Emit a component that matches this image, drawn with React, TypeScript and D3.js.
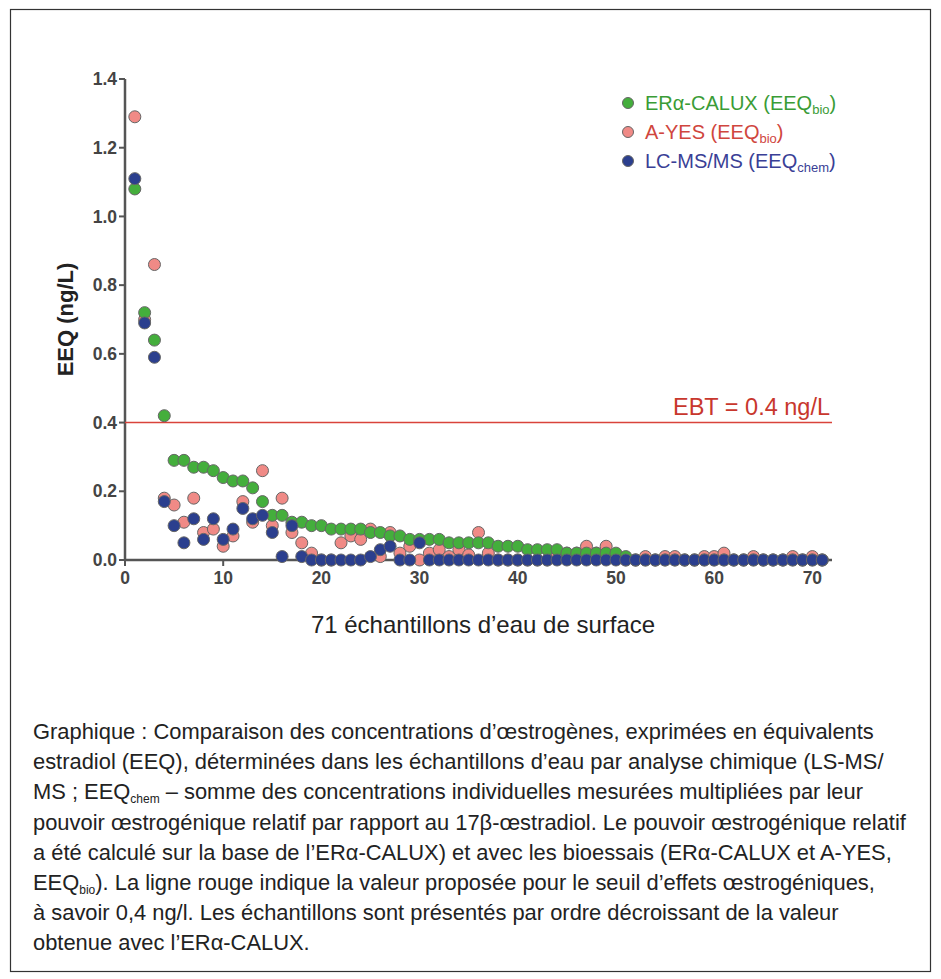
import React, { useEffect } from "react";
import * as d3 from "d3";

// sample rank 1..71 (sorted by ERα-CALUX)
const samples = d3.range(1, 72);

const calux = [
  1.08, 0.72, 0.64, 0.42, 0.29, 0.29, 0.27, 0.27, 0.26, 0.24, 0.23, 0.23, 0.21, 0.17, 0.13, 0.13,
  0.11, 0.11, 0.1, 0.1, 0.09, 0.09, 0.09, 0.09, 0.08, 0.08, 0.07, 0.07, 0.06, 0.06, 0.06, 0.06,
  0.05, 0.05, 0.05, 0.05, 0.05, 0.04, 0.04, 0.04, 0.03, 0.03, 0.03, 0.03, 0.02, 0.02, 0.02, 0.02,
  0.02, 0.02, 0.01, 0, 0, 0, 0, 0, 0, 0, 0, 0, 0, 0, 0, 0, 0, 0, 0, 0, 0, 0, 0,
];

const ayes = [
  1.29, 0.7, 0.86, 0.18, 0.16, 0.11, 0.18, 0.08, 0.09, 0.04, 0.07, 0.17, 0.11, 0.26, 0.1, 0.18,
  0.08, 0.05, 0.02, 0, 0, 0.05, 0.07, 0.06, 0.09, 0.01, 0.08, 0.02, 0.04, 0, 0.02, 0.03,
  0.01, 0.03, 0.015, 0.08, 0.02, 0, 0, 0, 0, 0, 0, 0.01, 0.02, 0.02, 0.04, 0.02,
  0.04, 0.01, 0, 0, 0.01, 0, 0.01, 0.01, 0, 0, 0.01, 0.01, 0.02, 0, 0, 0.01, 0, 0, 0, 0.01, 0, 0.01, 0,
];

const lcms = [
  1.11, 0.69, 0.59, 0.17, 0.1, 0.05, 0.12, 0.06, 0.12, 0.06, 0.09, 0.15, 0.12, 0.13, 0.08, 0.01,
  0.1, 0.01, 0, 0, 0, 0, 0, 0, 0.01, 0.03, 0.04, 0, 0, 0.05, 0, 0,
  0, 0, 0, 0, 0, 0, 0, 0, 0, 0, 0, 0, 0, 0, 0, 0, 0, 0, 0, 0, 0, 0, 0, 0, 0, 0, 0, 0, 0, 0, 0, 0, 0, 0, 0, 0, 0, 0, 0,
];

const xTicks = [0, 10, 20, 30, 40, 50, 60, 70];
const yTicks = [0, 0.2, 0.4, 0.6, 0.8, 1.0, 1.2, 1.4];
const threshold = 0.4;

const series = [
  { name: "A-YES", sub: "bio", values: ayes, fill: "#f08a86", text: "#d0463e" },
  { name: "ERα-CALUX", sub: "bio", values: calux, fill: "#44ae3c", text: "#3a9c36" },
  { name: "LC-MS/MS", sub: "chem", values: lcms, fill: "#2b3f8e", text: "#3a3f96" },
];
const legendOrder = [1, 0, 2];

const captionLines: [string, string?, string?][] = [
  ["Graphique : Comparaison des concentrations d’œstrogènes, exprimées en équivalents"],
  ["estradiol (EEQ), déterminées dans les échantillons d’eau par analyse chimique (LS-MS/"],
  ["MS ; EEQ", "chem", " – somme des concentrations individuelles mesurées multipliées par leur"],
  ["pouvoir œstrogénique relatif par rapport au 17β-œstradiol. Le pouvoir œstrogénique relatif"],
  ["a été calculé sur la base de l’ERα-CALUX) et avec les bioessais (ERα-CALUX et A-YES,"],
  ["EEQ", "bio", "). La ligne rouge indique la valeur proposée pour le seuil d’effets œstrogéniques,"],
  ["à savoir 0,4 ng/l. Les échantillons sont présentés par ordre décroissant de la valeur"],
  ["obtenue avec l’ERα-CALUX."],
];

const W = 941;
const H = 979;
const x = d3.scaleLinear().domain([0, 72]).range([125, 832]);
const y = d3.scaleLinear().domain([0, 1.4]).range([560, 79]);
const axisColor = "#555";
const sans = "'Liberation Sans', Arial, Helvetica, sans-serif";

export default function App() {
  useEffect(() => {
    document.body.style.margin = "0";
  }, []);

  return (
    <svg width={W} height={H} style={{ display: "block", background: "#fff" }}>
      <rect x={10.5} y={9.5} width={920} height={962} fill="none" stroke="#333" strokeWidth={1.2} />

      {/* axes */}
      <line x1={x(0)} x2={x(72)} y1={y(0)} y2={y(0)} stroke={axisColor} strokeWidth={2.5} />
      <line x1={x(0)} x2={x(0)} y1={y(0)} y2={y(1.4)} stroke={axisColor} strokeWidth={2.5} />
      {yTicks.map((t) => (
        <g key={"y" + t}>
          <line x1={x(0) - 6} x2={x(0)} y1={y(t)} y2={y(t)} stroke={axisColor} strokeWidth={2} />
          <text x={x(0) - 8} y={y(t)} dy="0.35em" textAnchor="end" fontFamily={sans}
            fontWeight="bold" fontSize={17.5} fill="#444">{d3.format(".1f")(t)}</text>
        </g>
      ))}
      {xTicks.map((t) => (
        <g key={"x" + t}>
          <line x1={x(t)} x2={x(t)} y1={y(0)} y2={y(0) + 6} stroke={axisColor} strokeWidth={2} />
          <text x={x(t)} y={y(0) + 24} textAnchor="middle" fontFamily={sans}
            fontWeight="bold" fontSize={17.5} fill="#444">{t}</text>
        </g>
      ))}

      {/* threshold */}
      <line x1={x(0)} x2={x(72)} y1={y(threshold)} y2={y(threshold)} stroke="#d9433b" strokeWidth={1.6} />
      <text x={830} y={y(threshold) - 8} textAnchor="end" fontFamily={sans} fontSize={23.5} fill="#c8372d">
        EBT = 0.4 ng/L
      </text>

      {/* points */}
      {series.map((s) => (
        <g key={s.name}>
          {s.values.map((v, i) => (
            <circle key={i} cx={x(samples[i])} cy={y(v)} r={6} fill={s.fill} stroke="#666" strokeWidth={1} />
          ))}
        </g>
      ))}

      {/* legend */}
      {legendOrder.map((si, k) => {
        const s = series[si];
        const ly = 103 + k * 29;
        return (
          <g key={"lg" + s.name}>
            <circle cx={628} cy={ly} r={5.5} fill={s.fill} stroke="#666" strokeWidth={1} />
            <text x={645} y={ly} dy="0.36em" fontFamily={sans} fontSize={20} fill={s.text}>
              {s.name} (EEQ
              <tspan fontSize={13} dy={4}>{s.sub}</tspan>
              <tspan dy={-4}>)</tspan>
            </text>
          </g>
        );
      })}

      {/* axis titles */}
      <text transform={`translate(73,${y(0.7)}) rotate(-90)`} textAnchor="middle" fontFamily={sans}
        fontWeight="bold" fontSize={22} fill="#222">EEQ (ng/L)</text>
      <text x={483} y={633} textAnchor="middle" fontFamily={sans} fontSize={24} fill="#222">
        71 échantillons d’eau de surface
      </text>

      {/* caption */}
      {captionLines.map((ln, i) => (
        <text key={"c" + i} x={33} y={739 + i * 30.2} fontFamily={sans} fontSize={21.9} fill="#222">
          {ln[0]}
          {ln[1] && <tspan fontSize={12} dy={4}>{ln[1]}</tspan>}
          {ln[2] && <tspan dy={-4}>{ln[2]}</tspan>}
        </text>
      ))}
    </svg>
  );
}
